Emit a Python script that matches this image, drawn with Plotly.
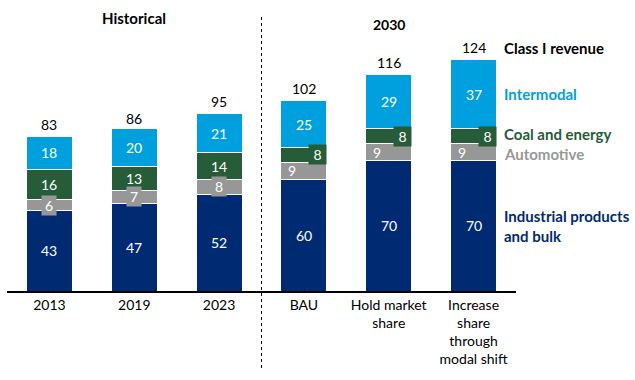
import plotly.graph_objects as go

categories = ["2013", "2019", "2023", "BAU", "Hold market<br>share",
              "Increase<br>share<br>through<br>modal shift"]
industrial = [43, 47, 52, 60, 70, 70]
automotive = [6, 7, 8, 9, 9, 9]
coal = [16, 13, 14, 8, 8, 8]
intermodal = [18, 20, 21, 25, 29, 37]
totals = [83, 86, 95, 102, 116, 124]
series_names = ["Industrial products<br>and bulk", "Automotive", "Coal and energy", "Intermodal"]
group_titles = ["Historical", "2030"]

C_IND = "#002B73"
C_AUTO = "#979797"
C_COAL = "#265C38"
C_INT = "#009FDE"
FONT = "Lato"

xs = list(range(len(categories)))
series = [industrial, automotive, coal, intermodal]
colors = [C_IND, C_AUTO, C_COAL, C_INT]

fig = go.Figure()
for vals, col, name in zip(series, colors, series_names):
    fig.add_trace(go.Bar(x=xs, y=vals, marker=dict(color=col, line=dict(color="white", width=1)),
                         name=name, showlegend=False, hoverinfo="skip"))

ann = []
n_hist = 3
for i in xs:
    base = 0
    for k, (vals, col) in enumerate(zip(series, colors)):
        v = vals[i]
        mid = base + v / 2
        a = dict(x=i, y=mid, xref="x", yref="y", text=str(v), showarrow=False,
                 font=dict(family=FONT, size=14, color="white"))
        if k == 1:  # automotive
            if i < n_hist:
                a.update(bgcolor=col, width=12, height=17, borderpad=1)
            else:
                a.update(xshift=-12)
        elif k == 2 and i >= n_hist:  # coal projections
            a.update(bgcolor=col, width=15, height=17, borderpad=1, xshift=14)
        ann.append(a)
        base += v
    ann.append(dict(x=i, y=totals[i], xref="x", yref="y", text=str(totals[i]), showarrow=False,
                    yshift=12, font=dict(family=FONT, size=14, color="black")))

# right-side labels aligned with last bar
last = len(xs) - 1
lx = 5.33
base = 0
label_shift = [0, -2, 2, 0]
for vals, col, name, sh in zip(series, colors, series_names, label_shift):
    v = vals[last]
    ann.append(dict(x=lx, y=base + v / 2, xref="x", yref="y", text="<b>" + name + "</b>",
                    showarrow=False, xanchor="left", align="left", yshift=sh,
                    font=dict(family=FONT, size=15, color=col)))
    base += v
ann.append(dict(x=lx, y=totals[last], xref="x", yref="y", text="<b>Class I revenue</b>",
                showarrow=False, xanchor="left", yshift=12,
                font=dict(family=FONT, size=15, color="black")))

# group titles
ann.append(dict(x=1, y=1.0, xref="x", yref="paper", text="<b>" + group_titles[0] + "</b>",
                showarrow=False, yanchor="middle", yshift=-8,
                font=dict(family=FONT, size=15, color="black")))
ann.append(dict(x=4, y=1.0, xref="x", yref="paper", text="<b>" + group_titles[1] + "</b>",
                showarrow=False, yanchor="middle", yshift=-14,
                font=dict(family=FONT, size=14, color="black")))

fig.update_layout(
    width=635, height=380,
    margin=dict(l=7, r=119, t=10, b=89),
    barmode="stack", bargap=0.458,
    plot_bgcolor="white", paper_bgcolor="white",
    annotations=ann,
    shapes=[dict(type="line", xref="x", yref="paper", x0=2.5, x1=2.5, y0=0.975, y1=-0.274,
                 line=dict(color="black", width=1, dash="3px,3px"))],
    xaxis=dict(range=[-0.5, 5.5], tickvals=xs, ticktext=categories, showline=True,
               linecolor="black", linewidth=1.5, showgrid=False, zeroline=False,
               tickfont=dict(family=FONT, size=14, color="black"), fixedrange=True),
    yaxis=dict(range=[0, 281 / 1.865], visible=False, fixedrange=True),
)
fig.write_html("out.html", config={"displayModeBar": False},
               post_script="document.body.style.margin='0';")
